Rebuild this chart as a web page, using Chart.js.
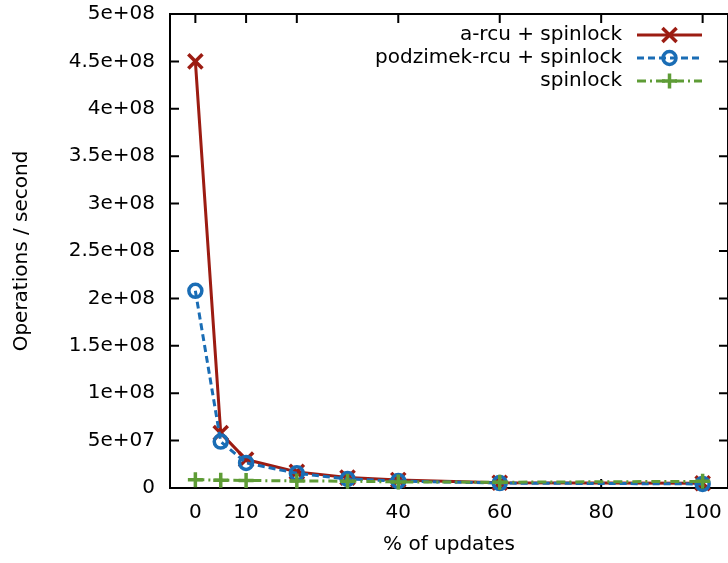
<!DOCTYPE html>
<html lang="en">
<head>
    <meta charset="UTF-8">
    <title>Operations / second vs % of updates</title>
    <script src="https://cdn.jsdelivr.net/npm/chart.js"></script>
    <style>
        body {
            margin: 0;
            background: #ffffff;
        }
        canvas {
            display: block;
        }
    </style>
</head>
<body>

<canvas id="myChart" width="728" height="563"></canvas>

<script>
    // data
    const updatePct = [0, 5, 10, 20, 30, 40, 60, 100];
    const aRcu = [4.5e8, 5.8e7, 3.0e7, 1.7e7, 1.1e7, 8.5e6, 5.5e6, 5.0e6];
    const podzimekRcu = [2.08e8, 4.9e7, 2.65e7, 1.55e7, 9.5e6, 7.3e6, 5.2e6, 4.3e6];
    const spinlock = [8.8e6, 8.2e6, 8.0e6, 7.4e6, 7.2e6, 6.4e6, 6.1e6, 7.0e6];

    const seriesNames = ['a-rcu + spinlock', 'podzimek-rcu + spinlock', 'spinlock'];

    // tick labels
    const xTicks = [0, 10, 20, 40, 60, 80, 100];
    const yTicks = [0, 5e7, 1e8, 1.5e8, 2e8, 2.5e8, 3e8, 3.5e8, 4e8, 4.5e8, 5e8];
    const yTickLabels = ['0', '5e+07', '1e+08', '1.5e+08', '2e+08', '2.5e+08', '3e+08', '3.5e+08', '4e+08', '4.5e+08', '5e+08'];

    const FONT = 'DejaVu Sans';
    const FSIZE = 20;
    const toPoints = vals => updatePct.map((x, i) => ({ x: x, y: vals[i] }));

    // frame box + inward tick marks on all four sides
    const framePlugin = {
        id: 'frame',
        beforeDatasetsDraw(chart) {
            const ctx = chart.ctx;
            const a = chart.chartArea;
            const xs = chart.scales.x;
            const ys = chart.scales.y;
            ctx.save();
            ctx.strokeStyle = '#000';
            ctx.lineWidth = 2;
            ctx.strokeRect(a.left, a.top, a.right - a.left, a.bottom - a.top);
            ctx.beginPath();
            xTicks.forEach(v => {
                const px = xs.getPixelForValue(v);
                ctx.moveTo(px, a.bottom); ctx.lineTo(px, a.bottom - 9);
                ctx.moveTo(px, a.top); ctx.lineTo(px, a.top + 9);
            });
            yTicks.forEach(v => {
                const py = ys.getPixelForValue(v);
                ctx.moveTo(a.left, py); ctx.lineTo(a.left + 9, py);
                ctx.moveTo(a.right, py); ctx.lineTo(a.right - 9, py);
            });
            ctx.stroke();
            ctx.restore();
        }
    };

    // gnuplot-style key: text right aligned, sample line on the right
    const keyPlugin = {
        id: 'key',
        afterDraw(chart) {
            const ctx = chart.ctx;
            const textRight = 622;
            const lineLeft = 637;
            const lineRight = 702;
            const rowY = [35, 58, 81];
            ctx.save();
            ctx.font = FSIZE + 'px "' + FONT + '"';
            ctx.textAlign = 'right';
            ctx.textBaseline = 'middle';
            chart.data.datasets.forEach((ds, i) => {
                const y = rowY[i];
                ctx.fillStyle = '#000';
                ctx.fillText(ds.label, textRight, y);
                ctx.strokeStyle = ds.borderColor;
                ctx.lineWidth = ds.borderWidth;
                ctx.setLineDash(ds.borderDash || []);
                ctx.beginPath();
                ctx.moveTo(lineLeft, y);
                ctx.lineTo(lineRight, y);
                ctx.stroke();
                ctx.setLineDash([]);
                ctx.fillStyle = 'rgba(0,0,0,0)';
                ctx.strokeStyle = ds.borderColor;
                ctx.lineWidth = ds.pointBorderWidth;
                Chart.helpers.drawPoint(ctx, {
                    pointStyle: ds.pointStyle,
                    radius: ds.pointRadius,
                    rotation: 0,
                    borderWidth: ds.pointBorderWidth
                }, (lineLeft + lineRight) / 2, y);
            });
            ctx.restore();
        }
    };

    const ctx = document.getElementById('myChart').getContext('2d');
    const myChart = new Chart(ctx, {
        type: 'line',
        data: {
            datasets: [
                {
                    label: seriesNames[0],
                    data: toPoints(aRcu),
                    borderColor: '#9c1c12',
                    borderWidth: 3,
                    pointStyle: 'crossRot',
                    pointRadius: 10,
                    pointBorderWidth: 3.5,
                    pointBorderColor: '#9c1c12',
                    pointBackgroundColor: 'rgba(0,0,0,0)',
                    order: 3,
                    clip: false
                },
                {
                    label: seriesNames[1],
                    data: toPoints(podzimekRcu),
                    borderColor: '#1a6db5',
                    borderWidth: 3,
                    borderDash: [7, 4],
                    pointStyle: 'circle',
                    pointRadius: 6.5,
                    pointBorderWidth: 3.5,
                    pointBorderColor: '#1a6db5',
                    pointBackgroundColor: 'rgba(0,0,0,0)',
                    order: 2,
                    clip: false
                },
                {
                    label: seriesNames[2],
                    data: toPoints(spinlock),
                    borderColor: '#5e9c36',
                    borderWidth: 3,
                    borderDash: [9, 4, 2, 4],
                    pointStyle: 'cross',
                    pointRadius: 7.5,
                    pointBorderWidth: 3.5,
                    pointBorderColor: '#5e9c36',
                    pointBackgroundColor: 'rgba(0,0,0,0)',
                    order: 1,
                    clip: false
                }
            ]
        },
        options: {
            responsive: false,
            animation: false,
            layout: {
                autoPadding: false,
                padding: { top: 14, right: 0, bottom: 0, left: 0 }
            },
            scales: {
                x: {
                    type: 'linear',
                    min: -5,
                    max: 105,
                    afterBuildTicks: scale => {
                        scale.ticks = xTicks.map(v => ({ value: v }));
                    },
                    afterFit: scale => {
                        scale.height = 75;
                        scale.paddingLeft = 0;
                        scale.paddingRight = 0;
                    },
                    grid: { display: false, drawTicks: false },
                    border: { display: false },
                    ticks: {
                        padding: 13,
                        color: '#000',
                        font: { family: FONT, size: FSIZE },
                        maxRotation: 0,
                        autoSkip: false
                    },
                    title: {
                        display: true,
                        text: '% of updates',
                        color: '#000',
                        font: { family: FONT, size: FSIZE },
                        padding: { top: 0, bottom: 6 }
                    }
                },
                y: {
                    type: 'linear',
                    min: 0,
                    max: 5e8,
                    afterBuildTicks: scale => {
                        scale.ticks = yTicks.map(v => ({ value: v }));
                    },
                    afterFit: scale => {
                        scale.width = 170;
                        scale.paddingTop = 0;
                        scale.paddingBottom = 0;
                    },
                    grid: { display: false, drawTicks: false },
                    border: { display: false },
                    ticks: {
                        padding: 15,
                        color: '#000',
                        font: { family: FONT, size: FSIZE },
                        autoSkip: false,
                        callback: value => {
                            const i = yTicks.indexOf(value);
                            return i >= 0 ? yTickLabels[i] : '';
                        }
                    },
                    title: {
                        display: true,
                        text: 'Operations / second',
                        color: '#000',
                        font: { family: FONT, size: FSIZE },
                        padding: { top: 10, bottom: 0 }
                    }
                }
            },
            plugins: {
                legend: { display: false },
                tooltip: { enabled: false }
            }
        },
        plugins: [framePlugin, keyPlugin]
    });
</script>

</body>
</html>
